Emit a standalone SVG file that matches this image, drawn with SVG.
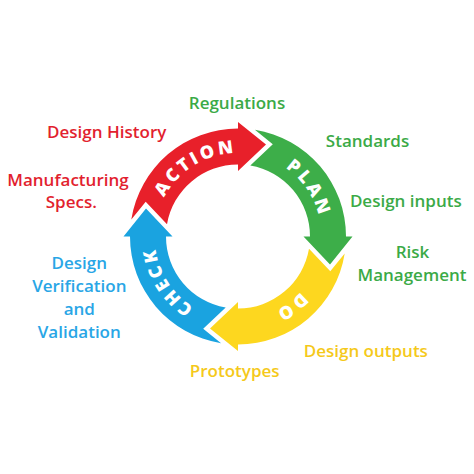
<svg xmlns="http://www.w3.org/2000/svg" xmlns:xlink="http://www.w3.org/1999/xlink" width="474" height="474" viewBox="0 0 474 474">
  <style>
    .lbl { font-family: "Open Sans", "Liberation Sans", sans-serif; font-weight: 600; font-size: 17px; text-anchor: middle; }
    .red { fill: #E21F2F; }
    .grn { fill: #3BAA47; }
    .yel { fill: #F5C91A; }
    .blu { fill: #29A6E6; }
    .arc { font-family: "Open Sans", "Liberation Sans", sans-serif; font-weight: 800; font-size: 18px; fill: #FFFFFF; text-anchor: middle; letter-spacing: 3px; }
  </style>
  <defs>
    <path id="seg" d="M 16.9,-106.7 L 34.8,-92.3 L 12.3,-71.0 A 72 72 0 0 1 72,0 L 65.5,0 L 92,28 L 114.5,0 L 108,0 A 108 108 0 0 0 16.9,-106.7 Z"/>
    <path id="ring" d="M 321.5,236.5 A 83.5 83.5 0 1 1 154.5,236.5 A 83.5 83.5 0 1 1 321.5,236.5"/>
  </defs>
  <rect width="474" height="474" fill="#FFFFFF"/>
  <g id="connectors">
    <g id="cycle" transform="translate(238,236.5)">
      <use href="#seg" xlink:href="#seg" fill="#E8202A" transform="rotate(-90)"/>
      <use href="#seg" xlink:href="#seg" fill="#3DAE49"/>
      <use href="#seg" xlink:href="#seg" fill="#FDD71F" transform="rotate(90)"/>
      <use href="#seg" xlink:href="#seg" fill="#1AA3E0" transform="rotate(180)"/>
    </g>
  </g>
  <g id="action"><text class="arc"><textPath href="#ring" xlink:href="#ring" startOffset="346.8">ACTION</textPath></text></g>
  <g id="plan"><text class="arc"><textPath href="#ring" xlink:href="#ring" startOffset="474.2">PLAN</textPath></text></g>
  <g id="do"><text class="arc"><textPath href="#ring" xlink:href="#ring" startOffset="76.9">DO</textPath></text></g>
  <g id="check"><text class="arc"><textPath href="#ring" xlink:href="#ring" startOffset="214.7">CHECK</textPath></text></g>

  <g id="regulations"><text class="lbl grn" x="237" y="109">Regulations</text></g>
  <g id="design-history"><text class="lbl red" x="106.7" y="138.3">Design History</text></g>
  <g id="standards"><text class="lbl grn" x="367.5" y="146.7">Standards</text></g>
  <g id="manufacturing-specs"><text class="lbl red" x="68" y="185.5">Manufacturing</text><text class="lbl red" x="71.3" y="208">Specs.</text></g>
  <g id="design-inputs"><text class="lbl grn" x="405.8" y="206.7">Design inputs</text></g>
  <g id="risk-management"><text class="lbl grn" x="412.5" y="258.3">Risk</text><text class="lbl grn" x="412" y="281">Management</text></g>
  <g id="design-verification"><text class="lbl blu" x="79.3" y="269.3">Design</text><text class="lbl blu" x="79.3" y="292.3">Verification</text><text class="lbl blu" x="79.3" y="315">and</text><text class="lbl blu" x="79.3" y="337.7">Validation</text></g>
  <g id="design-outputs"><text class="lbl yel" x="365.8" y="356.7">Design outputs</text></g>
  <g id="prototypes"><text class="lbl yel" x="234.7" y="376.7">Prototypes</text></g>
</svg>
